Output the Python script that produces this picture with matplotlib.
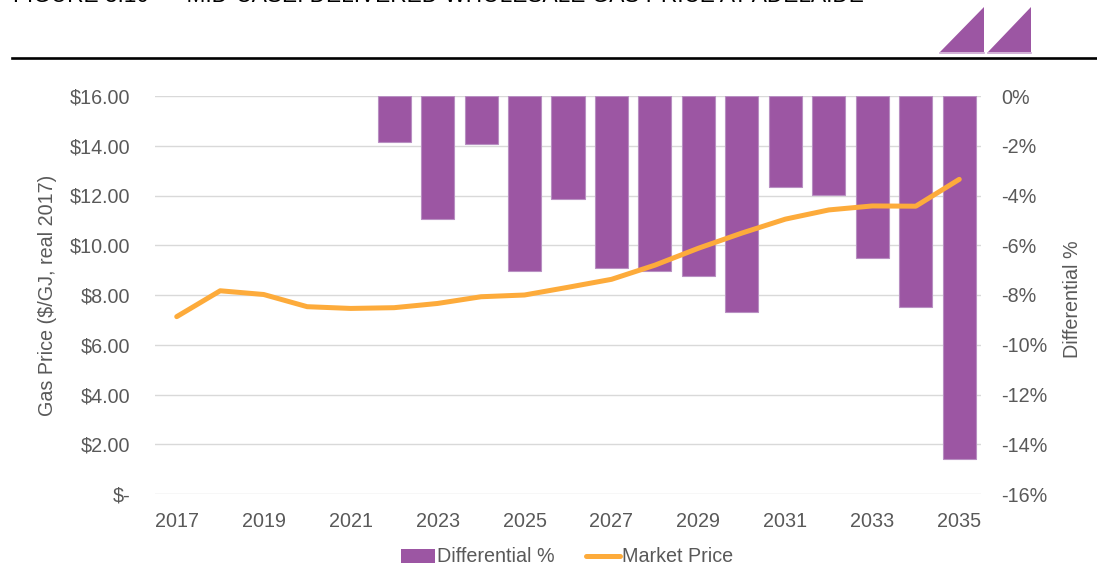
import matplotlib
matplotlib.use("Agg")
import matplotlib.pyplot as plt
from matplotlib.patches import Polygon
from matplotlib.lines import Line2D
import numpy as np

plt.rcParams['font.family'] = ['Liberation Sans', 'DejaVu Sans']

years = list(range(2017, 2036))
market_price = [7.13, 8.17, 8.02, 7.53, 7.46, 7.49, 7.66, 7.93, 8.00, 8.31, 8.63,
                9.20, 9.88, 10.49, 11.05, 11.42, 11.58, 11.57, 12.65]
differential = [0.0, 0.0, 0.0, 0.0, 0.0, -1.85, -4.95, -1.93, -7.03, -4.14, -6.92,
                -7.03, -7.24, -8.68, -3.64, -3.98, -6.50, -8.47, -14.58]
price_ticks = [0, 2, 4, 6, 8, 10, 12, 14, 16]
pct_ticks = [0, -2, -4, -6, -8, -10, -12, -14, -16]

PURPLE = '#9c56a3'
ORANGE = '#fdab3b'
GREY = '#595959'
FS = 14.2

fig = plt.figure(figsize=(10.97, 5.8), dpi=100)

# page header: clipped title, logo and rule
fig.text(13 / 1097, 1 - 1.5 / 580, "FIGURE 3.10      MID-CASE: DELIVERED WHOLESALE GAS PRICE AT ADELAIDE",
         fontsize=16.3, color='black', va='baseline', ha='left')
for x0, x1 in [(940, 984), (988, 1031)]:
    tri = [(x0 / 1097, 1 - 52 / 580), (x1 / 1097, 1 - 7 / 580), (x1 / 1097, 1 - 52 / 580)]
    fig.add_artist(Polygon(tri, closed=True, facecolor=PURPLE, edgecolor='none',
                           transform=fig.transFigure))
    fig.add_artist(Line2D([x0 / 1097, x1 / 1097], [1 - 52.5 / 580, 1 - 52.5 / 580],
                          color='#c9a3d0', lw=1.2, transform=fig.transFigure))
fig.add_artist(Line2D([12 / 1097, 1.0], [1 - 57.5 / 580, 1 - 57.5 / 580],
                      color='black', lw=1.9, transform=fig.transFigure))

ax = fig.add_axes([155 / 1097, 1 - 494 / 580, 826 / 1097, 398 / 580])
ax2 = ax.twinx()

x = np.arange(len(years))

# bars on the right axis, behind the price line
edge_w = [0.8 if v != 0 else 0 for v in differential]
bars = ax2.bar(x, differential, width=0.76, color=PURPLE, edgecolor='#b88fc2',
               linewidth=edge_w, label='Differential %', zorder=2)
ax2.set_ylim(-16, 0)
ax2.set_yticks(pct_ticks)
ax2.set_yticklabels(['%d%%' % t for t in pct_ticks])
ax2.grid(axis='y', color='#d9d9d9', lw=1.0)
ax2.set_axisbelow(True)
ax2.set_ylabel('Differential %', fontsize=FS, color=GREY)
ax2.yaxis.set_label_coords((1063 - 155) / 826, 0.49)

line, = ax.plot(x, market_price, color=ORANGE, lw=3.6, solid_capstyle='round',
                label='Market Price', zorder=3)
ax.set_ylim(0, 16)
ax.set_yticks(price_ticks)
ax.set_yticklabels(['$-' if t == 0 else '$%.2f' % t for t in price_ticks])
ax.set_ylabel('Gas Price ($/GJ, real 2017)', fontsize=FS, color=GREY)
ax.yaxis.set_label_coords((57 - 155) / 826, 0.5)
ax.set_xlim(-0.5, len(years) - 0.5)
ax.set_xticks(x[::2])
ax.set_xticklabels([str(y) for y in years[::2]])

ax.set_zorder(ax2.get_zorder() + 1)
ax.patch.set_visible(False)

for a in (ax, ax2):
    for s in a.spines.values():
        s.set_visible(False)
    a.tick_params(length=0, labelsize=FS, labelcolor=GREY)
ax.tick_params(axis='y', pad=18)
ax.tick_params(axis='x', pad=13)
ax2.tick_params(axis='y', pad=14.5)

fig.legend([bars, line], ['Differential %', 'Market Price'], loc='center',
           bbox_to_anchor=(567 / 1097, 1 - 557 / 580), ncol=2, frameon=False,
           fontsize=FS, labelcolor=GREY, handlelength=1.7, handletextpad=0.1,
           columnspacing=1.6)

fig.savefig('out.png', dpi=100)
